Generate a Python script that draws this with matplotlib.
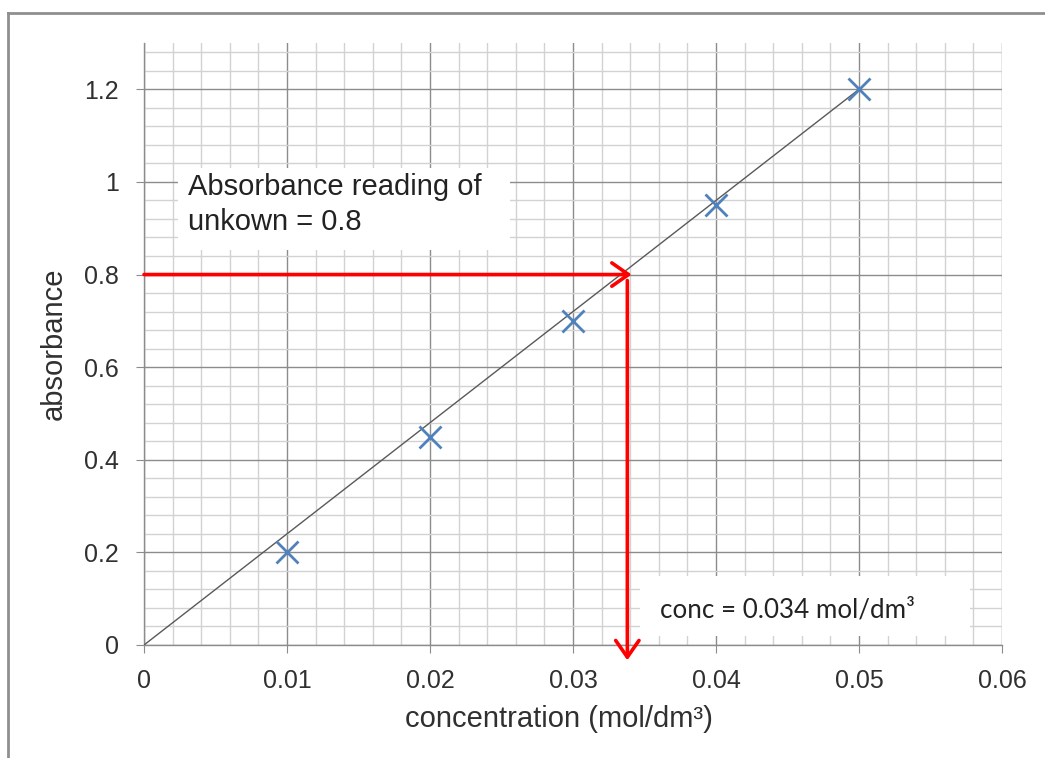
import matplotlib
matplotlib.use("Agg")
import matplotlib.pyplot as plt
from matplotlib.lines import Line2D
from matplotlib.patches import Rectangle
from matplotlib.ticker import MultipleLocator

# data
concentration = [0.01, 0.02, 0.03, 0.04, 0.05]
absorbance = [0.2, 0.45, 0.7, 0.95, 1.2]
fit_x = [0.0, 0.05]
fit_y = [0.0, 1.2]
unknown_abs = 0.8
unknown_conc = 0.034
x_ticks = [0, 0.01, 0.02, 0.03, 0.04, 0.05, 0.06]
x_tick_labels = ["0", "0.01", "0.02", "0.03", "0.04", "0.05", "0.06"]
y_ticks = [0, 0.2, 0.4, 0.6, 0.8, 1.0, 1.2]
y_tick_labels = ["0", "0.2", "0.4", "0.6", "0.8", "1", "1.2"]

plt.rcParams['font.family'] = ['Liberation Sans', 'DejaVu Sans']

fig = plt.figure(figsize=(10.45, 7.58), dpi=100)
ax = fig.add_axes([144/1045, 1-645/758, (1002-144)/1045, (645-43)/758])

ax.set_xlim(0, 0.06)
ax.set_ylim(0, 1.3)
ax.set_xticks(x_ticks)
ax.set_xticklabels(x_tick_labels)
ax.set_yticks(y_ticks)
ax.set_yticklabels(y_tick_labels)
ax.xaxis.set_minor_locator(MultipleLocator(0.002))
ax.yaxis.set_minor_locator(MultipleLocator(0.04))
ax.grid(which='major', color='#8c8c8c', linewidth=1.0)
ax.grid(which='minor', color='#d2d2d2', linewidth=1.0)
ax.set_axisbelow(True)
ax.tick_params(which='major', length=6, color='#8c8c8c', labelsize=18, labelcolor='#303030')
ax.tick_params(axis='x', which='major', pad=11)
ax.tick_params(axis='y', which='major', pad=12)
ax.tick_params(which='minor', length=0)
for s in ['top', 'right']:
    ax.spines[s].set_visible(False)
for s in ['left', 'bottom']:
    ax.spines[s].set_color('#8c8c8c')
    ax.spines[s].set_linewidth(1.0)

ax.set_xlabel("concentration (mol/dm³)", fontsize=21, color='#303030')
ax.set_ylabel("absorbance", fontsize=21, color='#303030', labelpad=12)
ax.xaxis.set_label_coords(0.4837, -0.100)

# white boxes covering the grid
ax.add_patch(Rectangle((0.00238, 0.853), 0.0256 - 0.00238, 1.030 - 0.853,
                       facecolor='white', edgecolor='none', zorder=2))
ax.add_patch(Rectangle((0.03469, 0.019), 0.05776 - 0.03469, 0.149 - 0.019,
                       facecolor='white', edgecolor='none', zorder=2))

ax.text(0.0031, 0.972, "Absorbance reading of", fontsize=21, color='#222222',
        va='baseline', ha='left', zorder=3)
ax.text(0.0031, 0.896, "unkown = 0.8", fontsize=21, color='#222222',
        va='baseline', ha='left', zorder=3)
ax.text(0.0361, 0.060, "conc = 0.034 mol/dm³", fontsize=18.7, color='#222222',
        family=['Lato', 'DejaVu Sans'], va='baseline', ha='left', zorder=3)

# fit line and data
ax.plot(fit_x, fit_y, color='#595959', linewidth=1.0, zorder=4)
ax.plot(concentration, absorbance, linestyle='none', marker='x', markersize=16,
        markeredgewidth=2.0, color='#4f81bd', zorder=5)

# red arrows
ax.annotate("", xy=(unknown_conc + 0.0001, unknown_abs), xytext=(0, unknown_abs),
            arrowprops=dict(arrowstyle='->,head_length=0.6,head_width=0.42', color='#ff0000',
                            lw=2.6, shrinkA=0, shrinkB=0, mutation_scale=20),
            zorder=6, annotation_clip=False)
ann = ax.annotate("", xy=(unknown_conc - 0.0002, -0.033), xytext=(unknown_conc - 0.0002, unknown_abs - 0.013),
                  arrowprops=dict(arrowstyle='->,head_length=0.6,head_width=0.42', color='#ff0000',
                                  lw=2.6, shrinkA=0, shrinkB=0, mutation_scale=20),
                  zorder=6, annotation_clip=False)
ann.arrow_patch.set_clip_on(False)

# figure border (top and left edges visible)
fig.add_artist(Line2D([8/1045, 8/1045], [0, 1-13/758], color='#8f8f8f', linewidth=2.0,
                      transform=fig.transFigure))
fig.add_artist(Line2D([8/1045, 1], [1-13/758, 1-13/758], color='#8f8f8f', linewidth=2.0,
                      transform=fig.transFigure))

fig.savefig("out.png", dpi=100)
